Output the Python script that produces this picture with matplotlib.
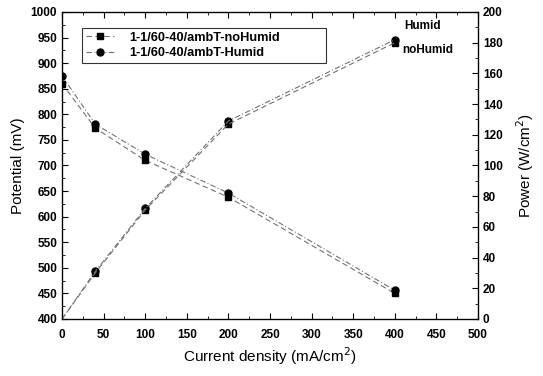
import matplotlib
matplotlib.use("Agg")
import matplotlib.pyplot as plt
from matplotlib.ticker import MultipleLocator

current = [0, 40, 100, 200, 400]
pot_nohumid = [860, 773, 710, 638, 450]
pot_humid = [875, 781, 722, 646, 456]
pow_nohumid = [0, 30, 71, 127, 180]
pow_humid = [0, 31, 72, 129, 182]

plt.rcParams['font.family'] = ['Liberation Sans', 'DejaVu Sans']

fig = plt.figure(figsize=(5.43, 3.76), dpi=100)
ax = fig.add_axes([0.1142, 0.1516, 0.7662, 0.8165])
ax2 = ax.twinx()

lc = '0.45'
ax.plot(current, pot_nohumid, linestyle=(0, (5, 3)), color=lc, lw=0.8,
        marker='s', ms=5, mfc='black', mec='black', label='1-1/60-40/ambT-noHumid')
ax.plot(current, pot_humid, linestyle=(0, (5, 2, 1, 2)), color=lc, lw=0.8,
        marker='o', ms=5, mfc='black', mec='black', label='1-1/60-40/ambT-Humid')
ax2.plot(current[1:], pow_nohumid[1:], linestyle='none', marker='s', ms=5, mfc='black', mec='black')
ax2.plot(current[1:], pow_humid[1:], linestyle='none', marker='o', ms=5, mfc='black', mec='black')
ax2.plot(current, pow_nohumid, linestyle=(0, (5, 3)), color=lc, lw=0.8)
ax2.plot(current, pow_humid, linestyle=(0, (5, 2, 1, 2)), color=lc, lw=0.8)

ax.set_xlim(0, 500)
ax.set_ylim(400, 1000)
ax2.set_ylim(0, 200)
ax.xaxis.set_major_locator(MultipleLocator(50))
ax.xaxis.set_minor_locator(MultipleLocator(25))
ax.yaxis.set_major_locator(MultipleLocator(50))
ax.yaxis.set_minor_locator(MultipleLocator(25))
ax2.yaxis.set_major_locator(MultipleLocator(20))
ax2.yaxis.set_minor_locator(MultipleLocator(10))

ax.tick_params(axis='both', which='both', direction='in', top=True, labelsize=8.5)
ax.tick_params(which='major', length=4)
ax.tick_params(which='minor', length=2)
ax.tick_params(axis='x', pad=7)
ax2.tick_params(axis='y', which='both', direction='in', labelsize=8.5)
ax2.tick_params(which='major', length=4)
ax2.tick_params(which='minor', length=2)
for lab in ax.get_xticklabels() + ax.get_yticklabels() + ax2.get_yticklabels():
    lab.set_fontweight('bold')

ax.set_xlabel('Current density (mA/cm$^2$)', fontsize=11, labelpad=3)
ax.set_ylabel('Potential (mV)', fontsize=11, labelpad=4)
ax2.set_ylabel('Power (W/cm$^2$)', fontsize=11, labelpad=8)

ax2.text(411, 191, 'Humid', fontsize=8.5, fontweight='bold', va='center')
ax2.text(409, 175, 'noHumid', fontsize=8.5, fontweight='bold', va='center')

leg = ax.legend(loc='lower left', bbox_to_anchor=(0.048, 0.834, 0.587, 0.12), mode='expand',
                prop={'weight': 'bold', 'size': 9.2}, frameon=True, fancybox=False,
                edgecolor='black', handlelength=2.2, handletextpad=1.2,
                borderpad=0.3, labelspacing=0.25, borderaxespad=0)
leg.get_frame().set_linewidth(0.8)

for sp in ax.spines.values():
    sp.set_linewidth(0.9)

fig.savefig('out.png', dpi=100)
